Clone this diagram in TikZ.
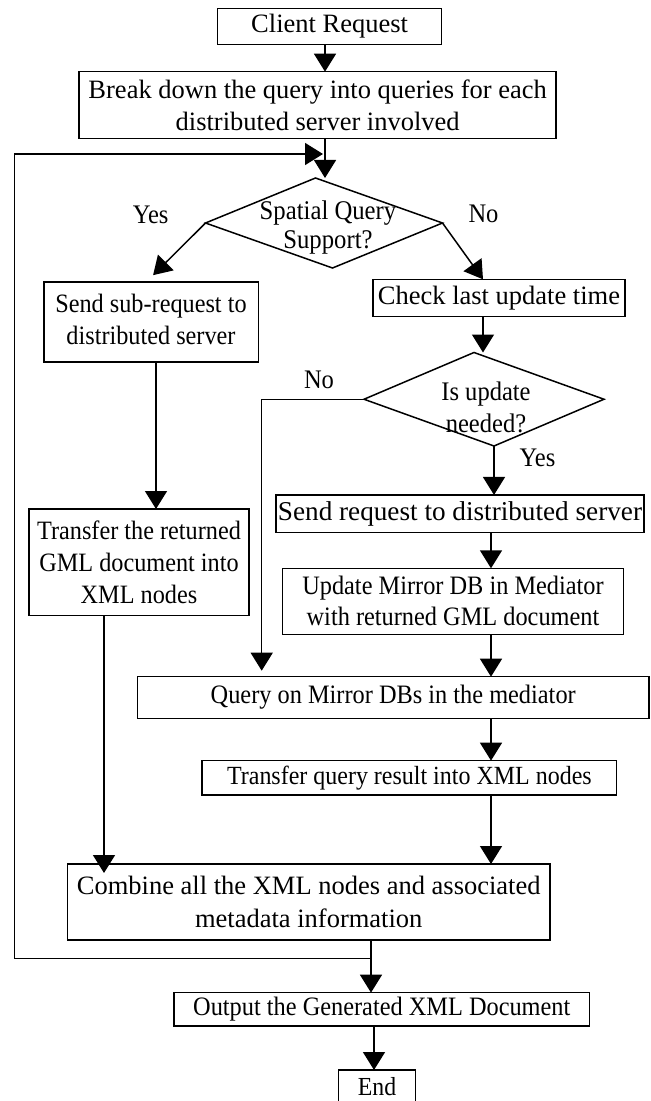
\documentclass[tikz,border=0pt]{standalone}
\usepackage{fontspec}
\setmainfont{Liberation Serif}
\newfontfamily\narrowfont[FakeStretch=0.915]{Liberation Serif}
\usetikzlibrary{arrows.meta,shapes.geometric,calc}
\newcommand\ffsz[2]{\fontsize{#1}{#2}\selectfont}
\begin{document}
\begin{tikzpicture}[x=0.5pt,y=-0.5pt,
  box/.style={draw, line width=0.75pt, inner sep=0pt, outer sep=0pt, align=center, font=\ffsz{13.25pt}{16pt}},
  smallbox/.style={box, font=\narrowfont\ffsz{13.25pt}{15.8pt}},
  decision/.style={draw, diamond, line width=0.75pt, inner sep=0pt, outer sep=0pt},
  dtext/.style={inner sep=0pt, align=center},
  lab/.style={inner sep=0pt, font=\narrowfont\ffsz{13.4pt}{15pt}},
  arr/.style={line width=0.75pt, -{Triangle[length=9pt,width=11pt]}},
  ln/.style={line width=0.75pt}]
\useasboundingbox (0,0) rectangle (650,1101);
\clip (0,0) rectangle (650,1101);

% boxes
\node[box, minimum width=112pt, minimum height=18pt] (client) at (329.6,26.3) {Client Request};
\node[box, minimum width=238.5pt, minimum height=33.3pt, font=\ffsz{13.25pt}{15.85pt}] (break) at (317.7,105) {Break down the query into queries for each\\distributed server involved};
\node[decision, minimum width=118.5pt, minimum height=45pt, xslant=-0.189] (d1) at (324,223) {};
\node[dtext, font=\narrowfont\ffsz{13.5pt}{14.4pt}] (d1t) at (328,227.5) {Spatial Query\\Support?};
\node[smallbox, minimum width=107.25pt, minimum height=40pt] (sub) at (151,322.2) {Send sub-request to\\distributed server\vphantom{p}};
\node[box, minimum width=126pt, minimum height=18.7pt] (check) at (499,298) {Check last update time};
\node[decision, minimum width=120pt, minimum height=46.75pt, xslant=-0.214] (d2) at (484,399.25) {};
\node[dtext, font=\narrowfont\ffsz{13.4pt}{15.8pt}] (d2t) at (486,407.5) {Is update\\needed?};
\node[box, minimum width=183.9pt, minimum height=18.85pt, font=\ffsz{13.6pt}{16pt}] (sendreq) at (460,513.8) {Send request to distributed server};
\node[smallbox, minimum width=170.6pt, minimum height=33pt, font=\narrowfont\ffsz{13.3pt}{15.5pt}] (update) at (453,601.3) {Update Mirror DB in Mediator\\with returned GML document};
\node[smallbox, minimum width=109.8pt, minimum height=53.3pt, font=\narrowfont\ffsz{13.25pt}{16pt}] (tgml) at (139,562.3) {Transfer the returned\\GML document into\\XML nodes};
\node[smallbox, minimum width=255.75pt, minimum height=20.8pt, font=\narrowfont\ffsz{13.3pt}{15pt}] (query) at (393.25,697.5) {Query on Mirror DBs in the mediator};
\node[smallbox, minimum width=207.3pt, minimum height=17.15pt, font=\narrowfont\ffsz{13.1pt}{15pt}] (tq) at (409.4,777.8) {Transfer query result into XML nodes};
\node[box, minimum width=241.25pt, minimum height=38pt, font=\ffsz{13.25pt}{16.65pt}] (combine) at (308.75,902) {Combine all the XML nodes and associated\\metadata information};
\node[smallbox, minimum width=207.8pt, minimum height=16.65pt, font=\narrowfont\ffsz{13.3pt}{15pt}] (output) at (381.8,1009.3) {Output the Generated XML Document};
\node[smallbox, minimum width=38.3pt, minimum height=17pt, anchor=north, font=\narrowfont\ffsz{13pt}{15pt}] (end) at (377,1070) {End};

% labels
\node[lab] (yes1) at (150.6,215) {Yes};
\node[lab] (no1) at (483.5,214) {No};
\node[lab] (no2) at (319,380) {No};
\node[lab] (yes2) at (537.5,458.3) {Yes};

% columns
\coordinate (xA) at (325,0);
\coordinate (xB) at (483,0);
\coordinate (xD) at (491,0);
\coordinate (xE) at (156,0);
\coordinate (xF) at (104,0);
\coordinate (xG) at (371,0);
\coordinate (xH) at (374,0);
\coordinate (xN) at (261.7,0);

% connectors
\draw[arr] (client.south -| xA) -- (break.north -| xA);
\draw[arr] (break.south -| xA) -- (xA |- d1.north);
\draw[arr, shorten >=5pt] (d1.west) -- ($(sub.north)+(-5,0)$);
\draw[arr] (d1.east) -- ($(check.north)+(-16,0)$);
\draw[arr] (check.south -| xB) -- (xB |- d2.north);
\draw[arr] (d2.south) -- (d2.south |- sendreq.north);
\draw[arr, shorten >=3pt] (d2.west) -| (query.north -| xN);
\draw[arr] (sendreq.south -| xD) -- (update.north -| xD);
\draw[arr] (update.south -| xD) -- (query.north -| xD);
\draw[arr] (query.south -| xD) -- (tq.north -| xD);
\draw[arr] (tq.south -| xD) -- (combine.north -| xD);
\draw[arr] (sub.south -| xE) -- (tgml.north -| xE);
\draw[arr, shorten >=-4.5pt] (tgml.south -| xF) -- (combine.north -| xF);
\draw[arr] (combine.south -| xG) -- (output.north -| xG);
\draw[arr] (output.south -| xH) -- (end.north -| xH);

% loop back
\coordinate (lb) at (371,958.3);
\coordinate (lbl) at (14.6,958.3);
\coordinate (ltl) at (14.6,154);
\coordinate (lt) at (323,154);
\draw[arr] (lb) -- (lbl) -- (ltl) -- (lt);
\end{tikzpicture}
\end{document}
